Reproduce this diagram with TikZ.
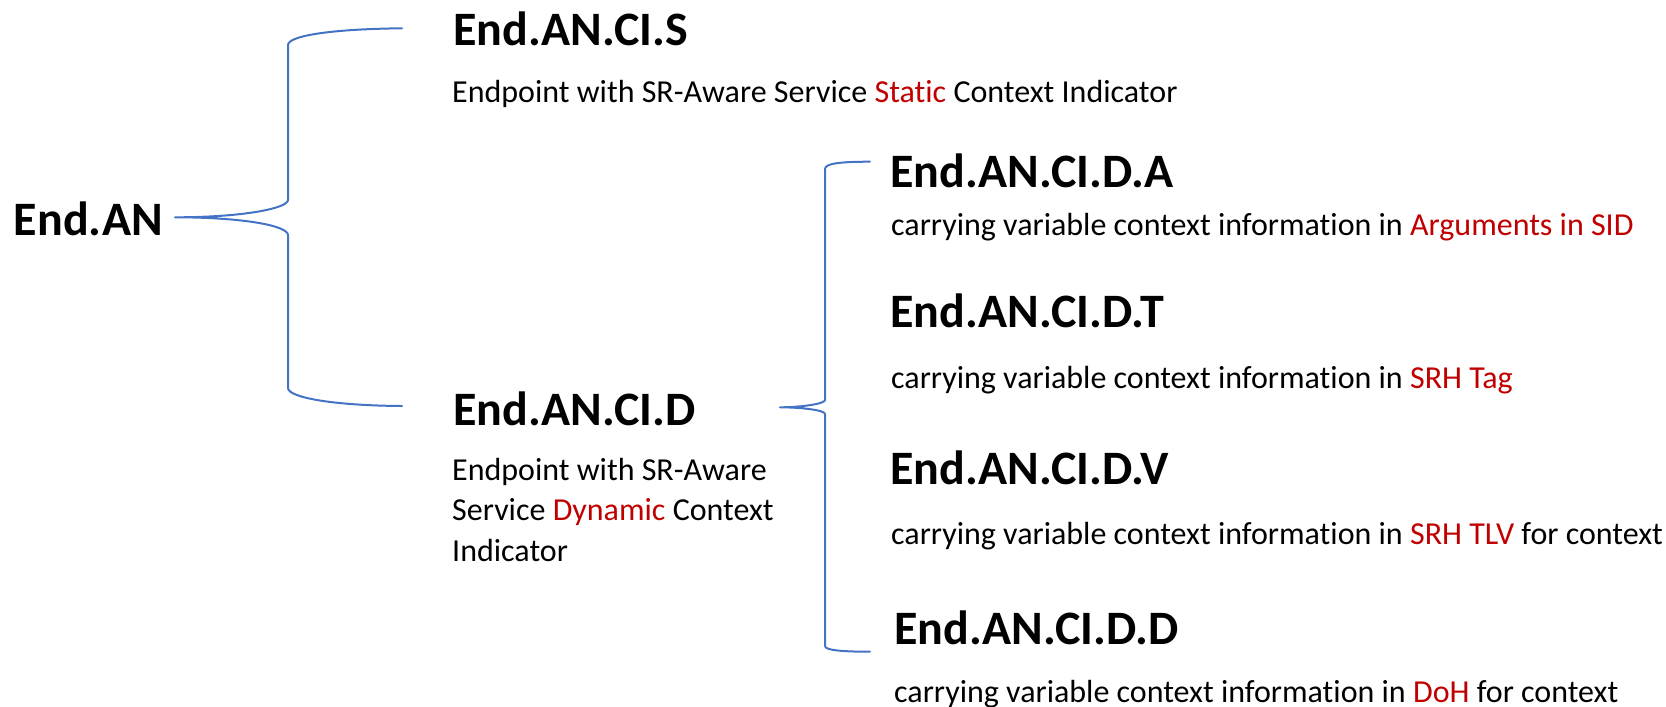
\documentclass[tikz,border=0pt]{standalone}
\usepackage{fontspec}
\setmainfont{Carlito}[Ligatures=NoCommon]
\definecolor{bracecol}{HTML}{4472C4}
\definecolor{keyred}{HTML}{C00000}
\newcommand{\redword}[1]{\textcolor{keyred}{#1}}
\tikzset{
  head/.style={anchor=base west, inner sep=0pt, font=\fontsize{48}{57}\selectfont\bfseries},
  desc/.style={anchor=base west, inner sep=0pt, font=\fontsize{32}{40.5}\selectfont, align=left},
  brace/.style={draw=bracecol, line width=2pt, line cap=round, line join=round},
}
\begin{document}
\begin{tikzpicture}[x=1pt,y=-1pt]
\path[use as bounding box] (0,0) rectangle (1666,707);

% root
\node[head] (an) at (13.7,235) {End.AN};

% first level
\node[head] (s) at (453,45) {End.AN.CI.S};
\node[desc] (sdesc) at (452,102) {Endpoint with SR-Aware Service \redword{Static} Context Indicator};
\node[head] (d) at (453,425) {End.AN.CI.D};
% base anchor of a multi-line node sits on its last line
\node[desc] (ddesc) at (452,561) {Endpoint with SR-Aware\\Service \redword{Dynamic} Context\\Indicator};

% second level
\node[head] (da) at (890,187) {End.AN.CI.D.A};
\node[desc] (dadesc) at (891,235) {carrying variable context information in \redword{Arguments in SID}};
\node[head] (dt) at (890,327) {End.AN.CI.D.T};
\node[desc] (dtdesc) at (891,388) {carrying variable context information in \redword{SRH Tag}};
\node[head] (dv) at (890,484) {End.AN.CI.D.V};
\node[desc] (dvdesc) at (891,544) {carrying variable context information in \redword{SRH TLV} for context};
\node[head] (dd) at (894,644) {End.AN.CI.D.D};
\node[desc] (dddesc) at (894,702) {carrying variable context information in \redword{DoH} for context};

% brace from End.AN to its two children
\coordinate (b1tip) at (175,217.3);
\coordinate (b1top) at (402,28.3);
\coordinate (b1bot) at (402,406);
\draw[brace] (b1top) .. controls (330,29) and (288,36) .. (288,45)
  -- (288,200) .. controls (288,208) and (245,217.3) .. (b1tip)
  .. controls (245,217.3) and (288,226) .. (288,235)
  -- (288,388) .. controls (288,397) and (330,405.5) .. (b1bot);

% brace from End.AN.CI.D to its four children
\coordinate (b2tip) at (780,407.3);
\coordinate (b2top) at (870,161.7);
\coordinate (b2bot) at (870,651.7);
\draw[brace] (b2top) .. controls (840,161.7) and (825,163.5) .. (825,169)
  -- (825,400) .. controls (825,404) and (800,407.3) .. (b2tip)
  .. controls (800,407.3) and (825,410) .. (825,414)
  -- (825,646) .. controls (825,650) and (840,651.7) .. (b2bot);
\end{tikzpicture}
\end{document}
